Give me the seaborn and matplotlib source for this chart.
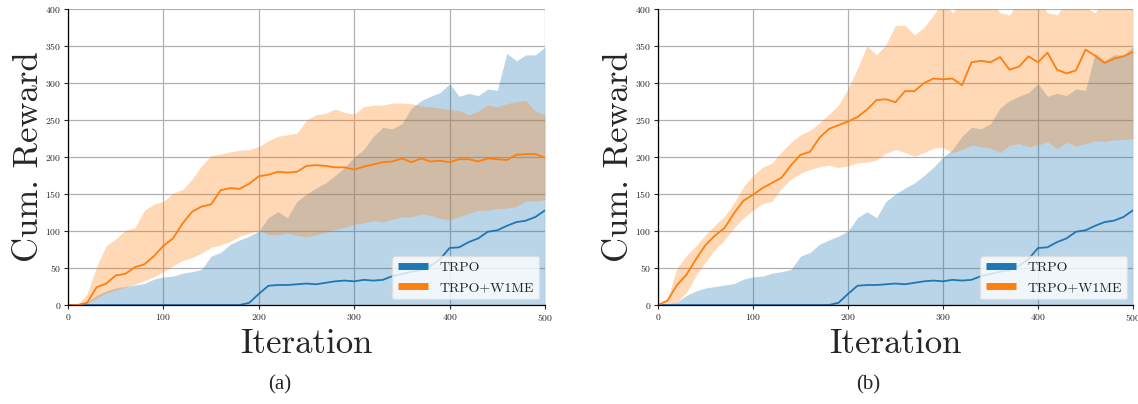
import numpy as np
import pandas as pd
import matplotlib
matplotlib.use("Agg")
import matplotlib.pyplot as plt
import seaborn as sns

# iterations sampled every 10
iters = list(range(0, 501, 10))

# TRPO (same runs in both panels)
trpo_mean = [0, 0, 0, 0, 0, 0, 0, 0, 0, 0,
             0, 0, 0, 0, 0, 0, 0, 0, 0, 3,
             15, 26, 27, 27, 28, 29, 28, 30, 32, 33,
             32, 34, 33, 34, 39, 42, 45, 47, 53, 62,
             77, 78, 85, 90, 99, 101, 107, 112, 114, 119,
             128]
trpo_high = [0, 1, 4, 13, 19, 23, 25, 27, 29, 35,
             38, 39, 43, 45, 48, 66, 71, 82, 88, 93,
             100, 118, 126, 118, 140, 150, 158, 165, 175, 186,
             200, 210, 228, 240, 238, 245, 266, 276, 282, 287,
             299, 282, 286, 283, 292, 290, 340, 330, 338, 338,
             349]
trpo_low = [0] * 51

# TRPO+W1ME, panel (a)
w1_a_mean = [0, 0, 3, 24, 29, 40, 42, 51, 55, 66,
             80, 90, 110, 126, 133, 136, 155, 158, 157, 164,
             174, 176, 180, 179, 180, 188, 189, 188, 186, 186,
             183, 187, 190, 193, 194, 198, 193, 198, 194, 195,
             193, 197, 197, 194, 198, 197, 196, 203, 204, 204,
             199]
w1_a_high = [0, 0, 15, 52, 80, 89, 101, 104, 128, 136,
             140, 151, 156, 170, 188, 202, 204, 207, 209, 210,
             214, 222, 228, 230, 232, 250, 257, 259, 265, 260,
             258, 268, 270, 270, 273, 273, 272, 269, 268, 266,
             264, 263, 257, 262, 270, 268, 272, 275, 276, 262,
             257]
w1_a_low = [0, 0, 2, 9, 16, 20, 24, 28, 33, 38,
            45, 53, 60, 64, 70, 78, 81, 86, 93, 97,
            101, 95, 95, 97, 94, 92, 95, 98, 102, 105,
            109, 111, 114, 112, 116, 119, 119, 123, 121, 117,
            115, 119, 124, 128, 128, 130, 131, 133, 141, 140,
            142]

# TRPO+W1ME, panel (b)
w1_b_mean = [0, 6, 27, 41, 62, 81, 94, 104, 124, 141,
             149, 158, 165, 172, 189, 203, 207, 226, 238, 243,
             248, 254, 264, 277, 278, 274, 289, 289, 300, 306,
             305, 306, 297, 328, 330, 328, 335, 318, 322, 336,
             328, 341, 318, 313, 317, 345, 337, 327, 333, 336,
             342]
w1_b_high = [0, 8, 50, 67, 80, 95, 108, 120, 138, 160,
             175, 186, 192, 207, 220, 230, 236, 246, 258, 270,
             292, 320, 350, 338, 352, 378, 378, 365, 375, 392,
             410, 395, 410, 415, 415, 412, 395, 392, 410, 415,
             412, 395, 392, 410, 415, 402, 395, 412, 415, 415,
             415]
w1_b_low = [0, 0, 4, 17, 40, 58, 75, 88, 104, 118,
            128, 137, 140, 158, 170, 178, 183, 187, 189, 186,
            188, 192, 193, 196, 205, 210, 206, 201, 206, 212,
            213, 206, 210, 216, 214, 212, 206, 216, 218, 214,
            216, 221, 211, 220, 215, 218, 222, 221, 223, 224,
            225]

labels = ["TRPO", "TRPO+W1ME"]
colors = ["#1f77b4", "#ff7f0e"]

sns.set_style("whitegrid")
plt.rcParams["font.family"] = ["cmr10", "DejaVu Serif"]
plt.rcParams["axes.formatter.use_mathtext"] = True

fig = plt.figure(figsize=(11.38, 4.04), dpi=100)
ax_a = fig.add_axes([68 / 1138, 99 / 404, 477 / 1138, 296 / 404])
ax_b = fig.add_axes([658 / 1138, 99 / 404, 475 / 1138, 296 / 404])

panels = [
    (ax_a, w1_a_mean, w1_a_low, w1_a_high, "(a)", 280),
    (ax_b, w1_b_mean, w1_b_low, w1_b_high, "(b)", 868),
]

for ax, m, lo, hi, tag, xc in panels:
    df = pd.DataFrame({
        "iteration": iters * 2,
        "reward": trpo_mean + m,
        "method": [labels[0]] * 51 + [labels[1]] * 51,
    })
    ax.fill_between(iters, trpo_low, trpo_high, color=colors[0], alpha=0.3, lw=0)
    ax.fill_between(iters, lo, hi, color=colors[1], alpha=0.3, lw=0)
    sns.lineplot(data=df, x="iteration", y="reward", hue="method",
                 palette=colors, lw=1.3, ax=ax, legend=False)

    ax.set_xlim(0, 500)
    ax.set_ylim(0, 400)
    ax.set_xticks(range(0, 501, 100))
    ax.set_yticks(range(0, 401, 50))
    ax.tick_params(labelsize=7, length=3, width=0.8, pad=2, left=True, bottom=True)
    ax.grid(color="#b0b0b0", lw=0.9)
    for s in ["top", "right"]:
        ax.spines[s].set_visible(False)
    for s in ["left", "bottom"]:
        ax.spines[s].set_color("black")
        ax.spines[s].set_linewidth(0.9)
    ax.set_xlabel("Iteration", fontsize=25, labelpad=4)
    ax.set_ylabel("Cum. Reward", fontsize=25, labelpad=0)

    handles = [plt.Line2D([], [], color=c, lw=5, solid_capstyle="butt") for c in colors]
    leg = ax.legend(handles, labels, loc="lower right", fontsize=10,
                    frameon=True, handlelength=2.2, borderaxespad=0.4)
    leg.get_frame().set_edgecolor("#dddddd")

    fig.text(xc / 1138, 1 - 385 / 404, tag, fontsize=15,
             family="Liberation Serif", ha="center", va="center")

fig.savefig("out.png", dpi=100)
